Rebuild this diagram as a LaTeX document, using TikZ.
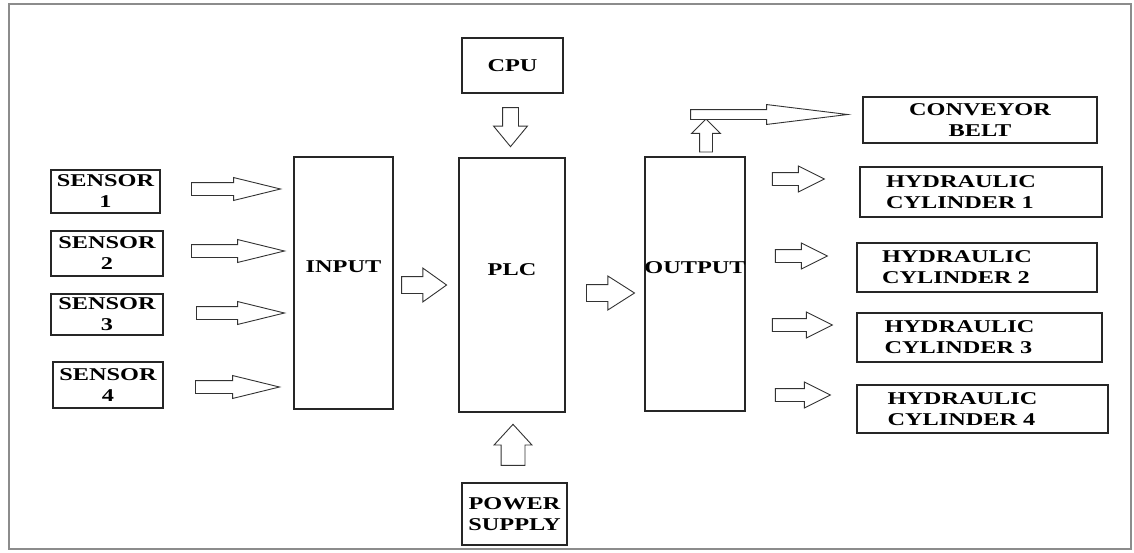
\documentclass[tikz,border=0pt]{standalone}
\usepackage{fontspec}
\setmainfont{Liberation Serif}[FakeStretch=1.35]
\usepackage{tikz}
\usetikzlibrary{positioning,shapes.arrows,calc}

\begin{document}
\begin{tikzpicture}[
    x=1pt, y=-1pt,
    font=\fontsize{18}{21}\selectfont\bfseries,
    frame/.style  ={draw=black!45, line width=2pt},
    unit/.style   ={draw=black!85, line width=1.3pt, inner sep=0pt, align=center},
    tall/.style   ={unit, minimum width=100pt, minimum height=254pt},
    hyd/.style    ={unit, text width=190pt, align=left},
    utext/.style  ={inner sep=0pt},
    blk/.style    ={single arrow, draw=black!80, line width=0.9pt, fill=white, inner xsep=0pt, minimum width=0pt, single arrow head indent=0pt},
    sarr/.style   ={blk, inner ysep=6pt, single arrow head extend=5pt, single arrow tip angle=27.5},
    marr/.style   ={blk, inner ysep=8pt, single arrow head extend=8.5pt},
    harr/.style   ={blk, inner ysep=6pt, single arrow head extend=6.5pt, single arrow tip angle=53},
  ]
  \useasboundingbox (0,0) rectangle (1134,552);
  \draw[frame] (9,4) rectangle (1131,549);
  \node[unit, minimum width=109pt, minimum height=43pt] (s1) at (105.5,191.5) {SENSOR\\1};
  \node[unit, minimum width=112pt, minimum height=45pt] (s2) at (107,253.5) {SENSOR\\2};
  \node[unit, minimum width=112pt, minimum height=41pt] (s3) at (107,314.5) {SENSOR\\3};
  \node[unit, minimum width=110pt, minimum height=46pt] (s4) at (108,385) {SENSOR\\4};
  \node[tall, minimum width=99pt, minimum height=252pt] (in) at (343.5,283) {};
  \node[utext] (in-t) at ([yshift=16pt]in.center) {INPUT};
  \node[tall, minimum width=106pt] (plc) at (512,285) {};
  \node[utext] (plc-t) at ([yshift=15pt]plc.center) {PLC};
  \node[tall] (out) at (695,284) {};
  \node[utext] (out-t) at ([yshift=16pt]out.center) {OUTPUT};
  \node[unit, minimum width=101pt, minimum height=55pt] (cpu) at (512.5,65.5) {CPU};
  \node[unit, minimum width=105pt, minimum height=62pt] (pow) at (514.5,514) {POWER\\SUPPLY};
  \node[unit, minimum width=234pt, minimum height=46pt] (belt) at (980,120) {CONVEYOR\\BELT};
  \node[hyd, minimum width=242pt, minimum height=50pt] (hc1) at (981,192) {HYDRAULIC\\CYLINDER 1};
  \node[hyd, minimum width=240pt, minimum height=49pt] (hc2) at (977,267.5) {HYDRAULIC\\CYLINDER 2};
  \node[hyd, minimum width=245pt, minimum height=49pt] (hc3) at (979.5,337.5) {HYDRAULIC\\CYLINDER 3};
  \node[hyd, minimum width=251pt, minimum height=48pt] (hc4) at (982.5,409) {HYDRAULIC\\CYLINDER 4};
  \node[sarr, anchor=tip, minimum height=89pt] (a1) at ([xshift=-11pt, yshift=2.5pt]in.west |- s1.east) {};
  \node[sarr, anchor=tip, minimum height=93pt] (a2) at ([xshift=-7pt, yshift=2.5pt]in.west |- s2.east) {};
  \node[sarr, anchor=tip, minimum height=88pt] (a3) at ([xshift=-7pt, yshift=1.5pt]in.west |- s3.east) {};
  \node[sarr, anchor=tip, minimum height=84pt] (a4) at ([xshift=-12pt, yshift=-2pt]in.west |- s4.east) {};
  \node[marr, single arrow tip angle=71, anchor=tip, minimum height=45pt] (in-plc) at ([xshift=-11pt]plc.west) {};
  \node[marr, single arrow tip angle=65, anchor=tip, minimum height=48pt] (plc-out) at ([xshift=-9pt, yshift=-9pt]out.west) {};
  \node[blk, inner ysep=7.5pt, single arrow head extend=9pt, single arrow tip angle=79, rotate=-90, anchor=tip, minimum height=39pt] (cpu-plc) at ([xshift=-1.5pt, yshift=10pt]plc.north) {};
  \node[blk, inner ysep=11.5pt, single arrow head extend=7pt, single arrow tip angle=85, rotate=90, anchor=tip, minimum height=41pt] (pow-plc) at ([xshift=1pt, yshift=-11pt]plc.south) {};
  \node[blk, inner ysep=6pt, single arrow head extend=8pt, single arrow tip angle=90, rotate=90, anchor=tip, minimum height=33pt] (out-up) at ([xshift=11pt, yshift=38pt]out.north) {};
  \node[blk, inner ysep=4.5pt, single arrow head extend=5pt, single arrow tip angle=14, anchor=tip, minimum height=157pt] (out-belt) at ([xshift=-11pt, yshift=5.5pt]belt.west) {};
  \node[harr, anchor=tip, minimum height=52pt] (h1) at ([xshift=-34pt, yshift=13pt]hc1.west) {};
  \node[harr, anchor=tip, minimum height=52pt] (h2) at ([xshift=-28pt, yshift=11.5pt]hc2.west) {};
  \node[harr, anchor=tip, minimum height=60pt] (h3) at ([xshift=-23pt, yshift=12.5pt]hc3.west) {};
  \node[harr, anchor=tip, minimum height=55pt] (h4) at ([xshift=-25pt, yshift=14pt]hc4.west) {};
\end{tikzpicture}
\end{document}
